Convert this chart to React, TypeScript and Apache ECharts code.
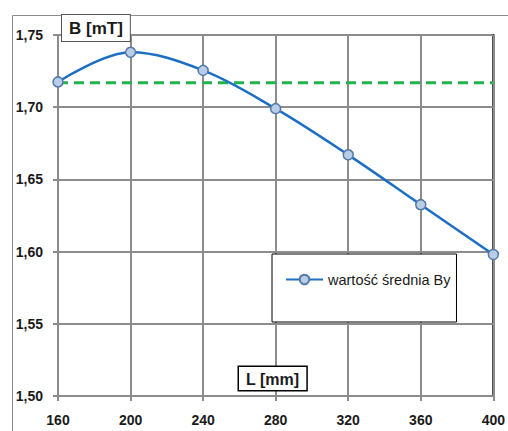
import React, { useEffect, useRef } from "react";
import * as echarts from "echarts";

const lengths = [160, 200, 240, 280, 320, 360, 400];
const meanBy = [1.7175, 1.738, 1.7255, 1.699, 1.667, 1.6325, 1.598];
const referenceLevel = 1.717;
const seriesName = "wartość średnia By";
const xTitle = "L [mm]";
const yTitle = "B [mT]";

const FONT = "'Liberation Sans', Arial, sans-serif";

export default function App() {
  const ref = useRef<HTMLDivElement>(null);
  useEffect(() => {
    if (!ref.current) return;
    const chart = echarts.init(ref.current, undefined, { renderer: "svg" });
    chart.setOption({
      animation: false,
      backgroundColor: "#ffffff",
      textStyle: { fontFamily: FONT },
      grid: {
        left: 58,
        right: 11,
        top: 35,
        bottom: 35,
        show: true,
        borderColor: "#000000",
        borderWidth: 2,
      },
      xAxis: {
        type: "value",
        min: 160,
        max: 400,
        interval: 40,
        axisLine: { show: true, onZero: false, lineStyle: { color: "#8c8c8c", width: 2 } },
        axisTick: { show: true, length: 5, lineStyle: { color: "#8c8c8c", width: 2 } },
        splitLine: { show: true, lineStyle: { color: "#8c8c8c", width: 2 } },
        axisLabel: { color: "#1a1a1a", fontSize: 14, fontWeight: "bold", margin: 17, fontFamily: FONT },
      },
      yAxis: {
        type: "value",
        min: 1.5,
        max: 1.75,
        interval: 0.05,
        axisLine: { show: true, lineStyle: { color: "#8c8c8c", width: 2 } },
        axisTick: { show: true, length: 5, lineStyle: { color: "#8c8c8c", width: 2 } },
        splitLine: { show: true, lineStyle: { color: "#8c8c8c", width: 2 } },
        axisLabel: {
          color: "#1a1a1a",
          fontSize: 14,
          fontWeight: "bold",
          margin: 15,
          fontFamily: FONT,
          formatter: (v: number) => v.toFixed(2).replace(".", ","),
        },
      },
      legend: {
        data: [seriesName],
        left: 272,
        top: 254,
        orient: "vertical",
        backgroundColor: "#ffffff",
        borderColor: "#000000",
        borderWidth: 1,
        padding: [18, 6, 35, 13],
        itemWidth: 37,
        itemHeight: 12,
        itemGap: 4,
        textStyle: { color: "#1a1a1a", fontSize: 14.5, fontFamily: FONT },
      },
      graphic: [
        {
          type: "rect",
          z: -10,
          silent: true,
          shape: { x: 12.5, y: 15.5, width: 600, height: 600 },
          style: { fill: "none", stroke: "#8c8c8c", lineWidth: 1 },
        },
        {
          type: "text",
          z: 100,
          x: 62,
          y: 15,
          style: {
            text: yTitle,
            fontSize: 17,
            fontWeight: "bold",
            fontFamily: FONT,
            fill: "#1a1a1a",
            backgroundColor: "#ffffff",
            borderColor: "#555555",
            borderWidth: 1,
            padding: [5, 7, 4, 7],
          },
        },
        {
          type: "text",
          z: 100,
          x: 239,
          y: 367,
          style: {
            text: xTitle,
            fontSize: 16,
            fontWeight: "bold",
            fontFamily: FONT,
            fill: "#1a1a1a",
            backgroundColor: "#ffffff",
            borderColor: "#000000",
            borderWidth: 1.5,
            padding: [4, 7, 3, 7],
          },
        },
      ],
      series: [
        {
          name: "ref",
          type: "line",
          data: [
            [lengths[0], referenceLevel],
            [lengths[lengths.length - 1], referenceLevel],
          ],
          showSymbol: false,
          symbol: "none",
          z: 3,
          lineStyle: { color: "#22b34a", width: 3, type: [10, 6] },
        },
        {
          name: seriesName,
          type: "line",
          data: lengths.map((x, i) => [x, meanBy[i]]),
          smooth: 0.35,
          symbol: "circle",
          symbolSize: 10,
          z: 5,
          lineStyle: { color: "#1c6fc4", width: 2.5 },
          itemStyle: { color: "#b9cde8", borderColor: "#5478a8", borderWidth: 1.5 },
        },
      ],
    });
    return () => chart.dispose();
  }, []);
  return (
    <div
      ref={ref}
      style={{ position: "fixed", left: 0, top: 0, width: 508, height: 431 }}
    />
  );
}
